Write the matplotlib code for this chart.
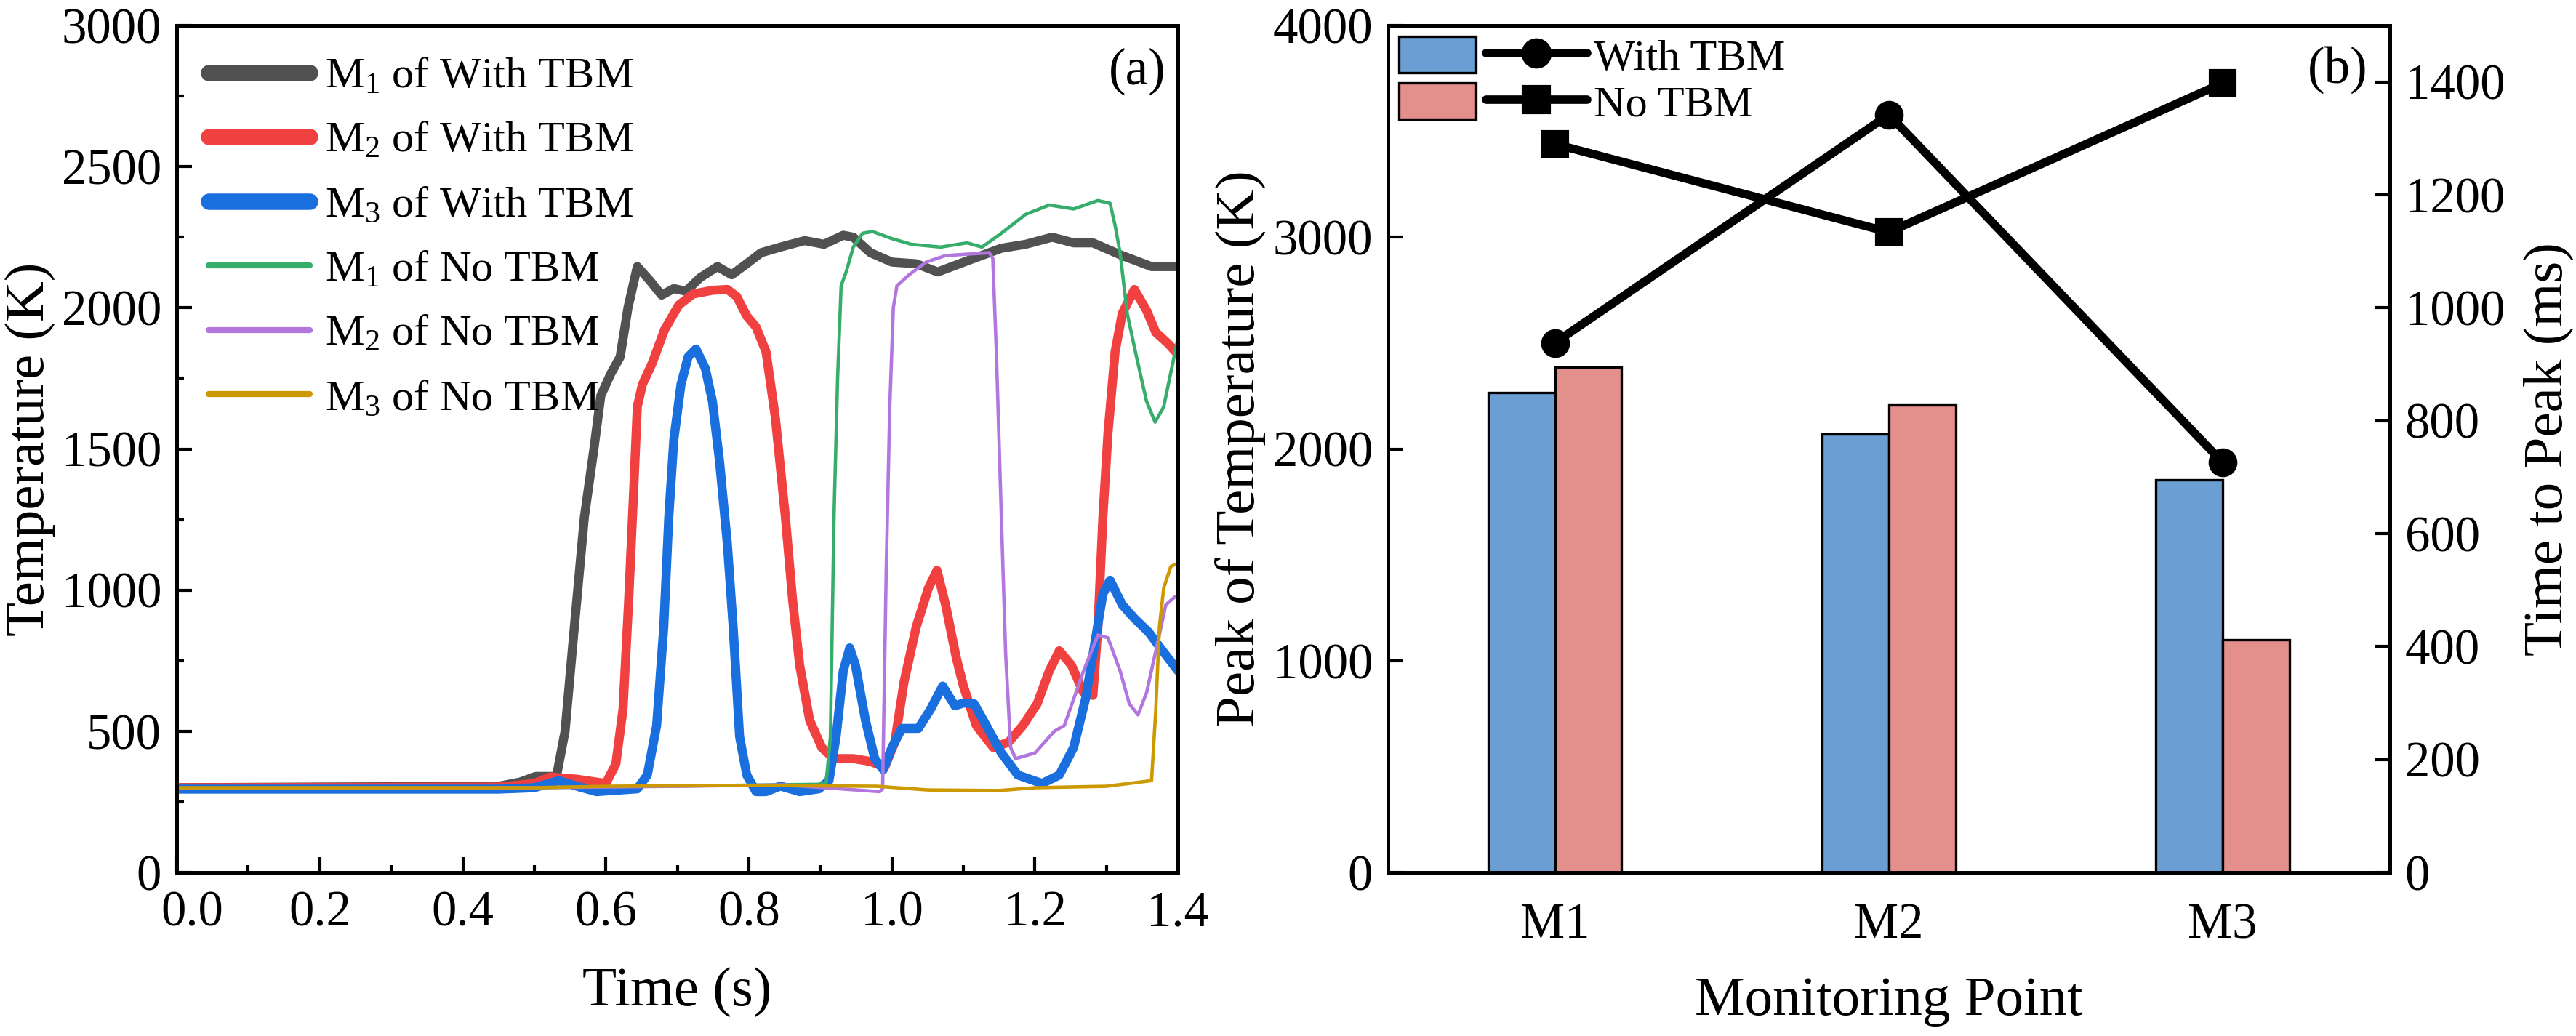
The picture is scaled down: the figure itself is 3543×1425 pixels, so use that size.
import numpy as np
import matplotlib
matplotlib.use("Agg")
import matplotlib.pyplot as plt
import matplotlib.patches as mpatches
import matplotlib.transforms as mtransforms
from matplotlib.lines import Line2D
from matplotlib.ticker import MultipleLocator, FormatStrFormatter

plt.rcParams['font.family'] = ['Liberation Serif', 'DejaVu Serif']
plt.rcParams['mathtext.fontset'] = 'custom'
plt.rcParams['mathtext.rm'] = 'Liberation Serif'
plt.rcParams['mathtext.it'] = 'Liberation Serif:italic'

# ---- (a) temperature history ----
t_m1_with = [0, 0.45, 0.48, 0.502, 0.531, 0.543, 0.556, 0.570, 0.583, 0.593, 0.607, 0.620,
             0.631, 0.644, 0.661, 0.678, 0.695, 0.712, 0.732, 0.756, 0.776, 0.797, 0.817,
             0.844, 0.878, 0.905, 0.932, 0.946, 0.970, 1.000, 1.034, 1.064, 1.105, 1.153,
             1.187, 1.224, 1.254, 1.281, 1.322, 1.363, 1.4]
T_m1_with = [300, 305, 320, 340, 340, 500, 870, 1259, 1494, 1689, 1767, 1826,
             2001, 2146, 2098, 2045, 2068, 2059, 2107, 2146, 2117, 2156, 2195,
             2215, 2238, 2225, 2257, 2250, 2195, 2162, 2156, 2127, 2166, 2211,
             2225, 2250, 2230, 2230, 2185, 2146, 2146]

t_m2_with = [0, 0.45, 0.50, 0.522, 0.56, 0.600, 0.614, 0.624, 0.632, 0.639, 0.644, 0.651,
             0.665, 0.682, 0.702, 0.722, 0.749, 0.770, 0.783, 0.797, 0.810, 0.824, 0.837,
             0.851, 0.861, 0.871, 0.885, 0.902, 0.919, 0.946, 0.970, 0.990, 1.004, 1.017,
             1.034, 1.051, 1.063, 1.075, 1.090, 1.100, 1.118, 1.142, 1.163, 1.183, 1.203,
             1.220, 1.234, 1.251, 1.268, 1.281, 1.288, 1.295, 1.302, 1.312, 1.322, 1.339,
             1.356, 1.369, 1.386, 1.4]
T_m2_with = [300, 302, 315, 338, 330, 315, 384, 578, 968, 1357, 1649, 1728,
             1805, 1922, 2010, 2049, 2062, 2065, 2040, 1971, 1932, 1844, 1611,
             1260, 968, 734, 539, 442, 403, 403, 393, 373, 461, 675,
             870, 1007, 1070, 948, 760, 660, 520, 442, 461, 520, 597,
             714, 785, 734, 636, 627, 870, 1260, 1553, 1844, 1980, 2065,
             1991, 1913, 1874, 1835]

t_m3_with = [0, 0.45, 0.50, 0.534, 0.56, 0.587, 0.644, 0.658, 0.671, 0.681, 0.688, 0.695,
             0.705, 0.715, 0.726, 0.739, 0.749, 0.759, 0.770, 0.778, 0.787, 0.797, 0.810,
             0.824, 0.844, 0.871, 0.898, 0.912, 0.922, 0.932, 0.941, 0.949, 0.963, 0.976,
             0.988, 1.000, 1.014, 1.037, 1.054, 1.071, 1.088, 1.100, 1.115, 1.132, 1.153,
             1.176, 1.210, 1.234, 1.254, 1.271, 1.285, 1.295, 1.305, 1.322, 1.339, 1.359,
             1.376, 1.4]
T_m3_with = [295, 295, 300, 325, 305, 286, 296, 345, 520, 870, 1259, 1532,
             1728, 1826, 1854, 1786, 1669, 1455, 1160, 870, 481, 345, 286,
             286, 306, 286, 296, 325, 481, 714, 795, 734, 539, 403,
             364, 442, 510, 510, 578, 660, 590, 600, 597, 520, 423,
             345, 315, 345, 442, 618, 832, 987, 1035, 948, 900, 851,
             793, 714]

t_m1_no = [0, 0.5, 0.7, 0.9, 0.908, 0.914, 0.919, 0.924, 0.929, 0.936, 0.946, 0.959,
           0.973, 1.000, 1.027, 1.068, 1.105, 1.126, 1.153, 1.187, 1.220, 1.254, 1.288,
           1.305, 1.312, 1.319, 1.329, 1.342, 1.356, 1.368, 1.380, 1.4]
T_m1_no = [298, 300, 306, 312, 316, 481, 1259, 1747, 2078, 2127, 2215, 2264,
           2270, 2245, 2225, 2215, 2230, 2215, 2264, 2331, 2364, 2350, 2380,
           2370, 2292, 2195, 1980, 1826, 1669, 1595, 1649, 1893]

t_m2_no = [0, 0.5, 0.7, 0.85, 0.983, 0.987, 0.992, 0.997, 1.002, 1.007, 1.024, 1.048,
           1.075, 1.105, 1.136, 1.141, 1.146, 1.153, 1.159, 1.166, 1.173, 1.200, 1.227,
           1.241, 1.268, 1.288, 1.302, 1.319, 1.332, 1.344, 1.356, 1.373, 1.383, 1.396,
           1.4]
T_m2_no = [298, 300, 305, 310, 286, 296, 1066, 1649, 2001, 2078, 2117, 2162,
           2185, 2190, 2195, 2176, 1844, 1259, 773, 442, 403, 423, 500,
           520, 714, 841, 831, 714, 597, 558, 636, 831, 948, 977,
           980]

t_m3_no = [0, 0.5, 0.6, 0.8, 0.98, 1.05, 1.15, 1.2, 1.3, 1.363, 1.369, 1.374,
           1.380, 1.390, 1.4]
T_m3_no = [300, 300, 305, 308, 305, 292, 290, 300, 305, 325, 578, 870,
           1007, 1084, 1095]

# ---- (b) peaks ----
points = ['M1', 'M2', 'M3']
peak_with = [2265, 2070, 1855]
peak_no = [2385, 2208, 1100]
ttp_with = [938, 1342, 726]
ttp_no = [1290, 1134, 1398]

c_gray, c_red, c_blue = '#515151', '#F14040', '#1A6FDF'
c_green, c_purple, c_gold = '#37AD6B', '#B177DE', '#CC9900'
bar_blue, bar_pink = '#6B9FD3', '#E3908D'

fig = plt.figure(figsize=(3543 / 300, 1425 / 300), dpi=300)
ax = fig.add_axes([0.0686, 0.1579, 0.3887, 0.8175])
axb = fig.add_axes([0.5388, 0.1579, 0.3889, 0.8175])

fs_tick = 16.5
fs_lab = 18.5
fs_leg = 14.5

thick = dict(lw=3.0, solid_capstyle='round', solid_joinstyle='round')
thin = dict(lw=1.1, solid_capstyle='round')
ax.plot(t_m1_with, T_m1_with, color=c_gray, label=r'$\mathregular{M_1}$ of With TBM', **thick)
ax.plot(t_m2_with, T_m2_with, color=c_red, label=r'$\mathregular{M_2}$ of With TBM', **thick)
ax.plot(t_m3_with, T_m3_with, color=c_blue, label=r'$\mathregular{M_3}$ of With TBM', **thick)
ax.plot(t_m1_no, T_m1_no, color=c_green, label=r'$\mathregular{M_1}$ of No TBM', **thin)
ax.plot(t_m2_no, T_m2_no, color=c_purple, label=r'$\mathregular{M_2}$ of No TBM', **thin)
ax.plot(t_m3_no, T_m3_no, color=c_gold, label=r'$\mathregular{M_3}$ of No TBM', **thin)

ax.set_xlim(0, 1.4)
ax.set_ylim(0, 3000)
ax.set_xticks(np.round(np.arange(0, 1.41, 0.2), 1))
ax.xaxis.set_minor_locator(MultipleLocator(0.1))
ax.yaxis.set_major_locator(MultipleLocator(500))
ax.yaxis.set_minor_locator(MultipleLocator(250))
ax.xaxis.set_major_formatter(FormatStrFormatter('%.1f'))
ax.tick_params(which='both', direction='in', width=1.0, labelsize=fs_tick,
               top=False, right=False)
ax.tick_params(which='major', length=5)
ax.tick_params(which='minor', length=2.5)
ax.tick_params(axis='x', pad=6)
ax.tick_params(axis='y', pad=5)
ax.set_xlabel('Time (s)', fontsize=fs_lab, labelpad=10)
ax.set_ylabel('Temperature (K)', fontsize=fs_lab, labelpad=2)
for s in ax.spines.values():
    s.set_linewidth(1.2)
leg = ax.legend(loc='upper left', frameon=False, fontsize=fs_leg, handlelength=2.3,
                handletextpad=0.35, labelspacing=0.55, borderaxespad=0.32, borderpad=0.4)
for ln in leg.get_lines():
    ln.set_linewidth(ln.get_linewidth() * 1.8)
ax.text(0.988, 0.946, '(a)', transform=ax.transAxes, ha='right', va='center', fontsize=17)

# ---- (b) ----
x = np.arange(len(points))
axb.bar(x - 0.1, peak_with, 0.2, color=bar_blue, edgecolor='black', linewidth=0.8)
axb.bar(x + 0.1, peak_no, 0.2, color=bar_pink, edgecolor='black', linewidth=0.8)
axb.set_xlim(-0.5, 2.5)
axb.set_ylim(0, 4000)
axb.yaxis.set_major_locator(MultipleLocator(1000))
axb.set_xticks(x)
axb.set_xticklabels(points)
axb.tick_params(axis='y', direction='in', length=5, width=1.0, labelsize=fs_tick, pad=5)
axb.tick_params(axis='x', length=0, labelsize=fs_tick, pad=10)
axb.set_xlabel('Monitoring Point', fontsize=fs_lab, labelpad=9)
axb.set_ylabel('Peak of Temperature (K)', fontsize=fs_lab, labelpad=2)

axt = axb.twinx()
axt.plot(x, ttp_with, '-o', color='black', lw=2.8, ms=8.5, solid_capstyle='round')
axt.plot(x, ttp_no, '-s', color='black', lw=2.8, ms=8, solid_capstyle='round')
axt.set_ylim(0, 1500)
axt.set_yticks(np.arange(0, 1401, 200))
axt.tick_params(axis='y', direction='in', length=5, width=1.0, labelsize=fs_tick, pad=5)
axt.set_ylabel('Time to Peak (ms)', fontsize=fs_lab, labelpad=6)
for a in (axb, axt):
    for s in a.spines.values():
        s.set_linewidth(1.2)

p1 = mpatches.Patch(facecolor=bar_blue, edgecolor='black', linewidth=0.8)
p2 = mpatches.Patch(facecolor=bar_pink, edgecolor='black', linewidth=0.8)
leg1 = axt.legend([p1, p2], [' ', ' '], loc='upper left', frameon=False, fontsize=fs_leg,
                  handlelength=1.75, handleheight=0.9, handletextpad=0.0,
                  labelspacing=0.08, borderaxespad=0, borderpad=0.25)
axt.add_artist(leg1)
l1 = Line2D([], [], color='black', lw=2.8, marker='o', ms=9, solid_capstyle='round')
l2 = Line2D([], [], color='black', lw=2.8, marker='s', ms=8.5, solid_capstyle='round')
axt.legend([l1, l2], ['With TBM', 'No TBM'], loc='upper left', bbox_to_anchor=(0.087, 1),
           frameon=False, fontsize=fs_leg, handlelength=2.3, handleheight=0.9,
           handletextpad=0.15, labelspacing=0.08, borderaxespad=0, borderpad=0.25)
axt.text(0.978, 0.948, '(b)', transform=axt.transAxes, ha='right', va='center', fontsize=17)

# nudge the "0.0" label off the corner, as in the original
fig.canvas.draw()
shift = mtransforms.ScaledTranslation(0.07, 0, fig.dpi_scale_trans)
for lab in ax.get_xticklabels():
    if lab.get_text() == '0.0':
        lab.set_transform(lab.get_transform() + shift)

fig.savefig('out.png', dpi=300)
